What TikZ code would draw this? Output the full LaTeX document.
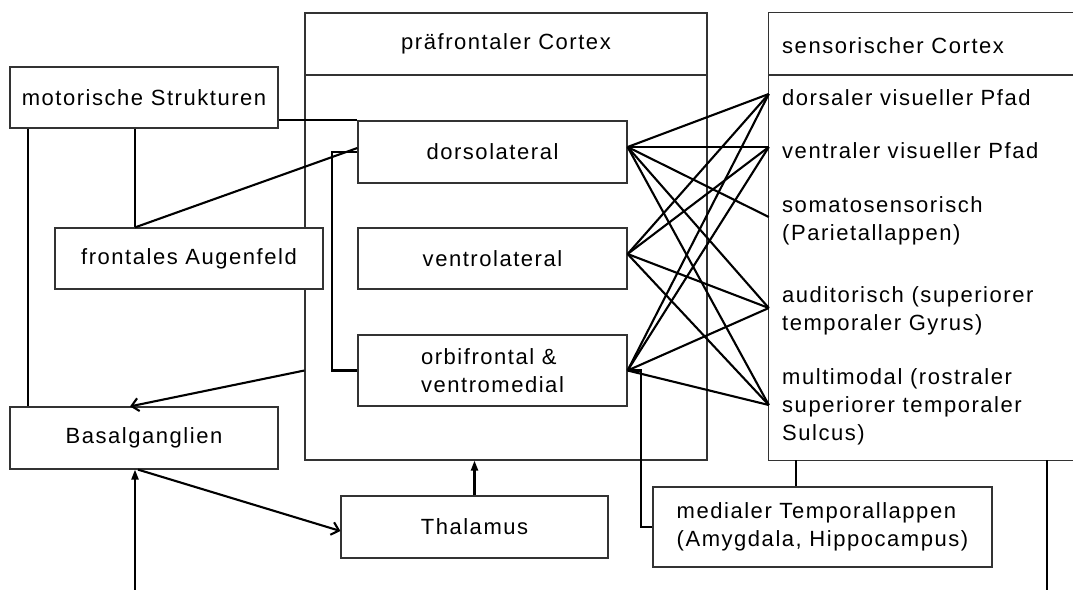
\documentclass[tikz,border=0pt]{standalone}
\usepackage{fontspec}
\setmainfont{Liberation Sans}[LetterSpace=7.0]
\usetikzlibrary{arrows.meta}

\newcommand{\diagfont}{\fontsize{22}{28}\selectfont}

\begin{document}
\begin{tikzpicture}[x=1pt,y=-1pt,
  frame/.style={draw=black!80, line width=1.2pt},
  box/.style={frame, rectangle, inner sep=0pt, font=\diagfont, fill=white},
  label/.style={inner sep=0pt, font=\diagfont, align=left},
  conn/.style={draw=black, line width=2.1pt},
  openarr/.style={conn, -{Straight Barb[length=7pt,width=13pt]}},
  fillarr/.style={conn, -{Triangle[length=10pt,width=7pt]}}]

\useasboundingbox[fill=white] (0,0) rectangle (1073,589);

% containers: prefrontal and sensory cortex
\node[frame, minimum width=402, minimum height=447, inner sep=0pt] (pfc) at (506,236.5) {};
\draw[frame] (pfc.west |- 0,75) -- (pfc.east |- 0,75);
\node[label, align=center] (pfctitle) at (506,44) {präfrontaler Cortex};

\node[minimum width=304, minimum height=447, inner sep=0pt] (stc) at (921,236.5) {};
\draw[frame] (stc.north east) -- (stc.north west) -- (stc.south west) -- (stc.south east);
\draw[frame] (stc.west |- 0,75) -- (stc.east |- 0,75);
\node[label, anchor=base west] (stctitle) at (782,53) {sensorischer Cortex};

% sensory areas (base anchor sits on the last line)
\node[label, anchor=base west] (sdors) at (782,105) {dorsaler visueller Pfad};
\node[label, anchor=base west] (svent) at (782,158) {ventraler visueller Pfad};
\node[label, anchor=base west] (ssoma) at (782,240) {somatosensorisch\\(Parietallappen)};
\node[label, anchor=base west] (saud) at (782,330) {auditorisch (superiorer\\temporaler Gyrus)};
\node[label, anchor=base west] (smulti) at (782,440) {multimodal (rostraler\\superiorer temporaler\\Sulcus)};

% boxes
\node[box, minimum width=268, minimum height=61] (motor) at (144,97.5) {motorische Strukturen};
\node[box, minimum width=268, minimum height=61] (augen) at (189,258.5) {frontales Augenfeld};
\node[box, minimum width=268, minimum height=62] (basal) at (144,438) {Basalganglien};
\node[box, minimum width=267, minimum height=62] (thal) at (474.5,527) {Thalamus};
\node[box, minimum width=269, minimum height=62] (dl) at (492.5,152) {dorsolateral};
\node[box, minimum width=269, minimum height=61] (vl) at (492.5,258.5) {ventrolateral};
\node[box, minimum width=269, minimum height=71, align=left] (of) at (492.5,370.5) {orbifrontal \&\\ventromedial};
\node[box, minimum width=339, minimum height=80, align=left] (med) at (822.5,527) {medialer Temporallappen\\(Amygdala, Hippocampus)};

% ports on the prefrontal and sensory sides
\coordinate (qDL) at ([yshift=5pt]dl.east);
\coordinate (qVL) at ([yshift=4.5pt]vl.east);
\coordinate (qOF) at (of.east);
\coordinate (pD) at (stc.west |- 0,94);
\coordinate (pV) at (stc.west |- 0,147);
\coordinate (pS) at (stc.west |- 0,217);
\coordinate (pA) at (stc.west |- 0,308);
\coordinate (pM) at (stc.west |- 0,405);

% loop leaving the picture at the bottom
\coordinate (loopL) at (135,591);
\coordinate (loopR) at (1047,591);

% motor links
\draw[conn] (dl.north west) -- (dl.north west -| motor.east);
\draw[conn] ([xshift=-116pt]motor.south) -- ([xshift=-116pt]basal.north);
\draw[conn] ([xshift=-9pt]motor.south) -- ([xshift=-54pt]augen.north);
\draw[conn] ([xshift=-54pt]augen.north) -- ([yshift=4pt]dl.west);

% bracket joining dorsolateral and orbifrontal
\draw[conn] (dl.west) -- ++(-25,0) |- (of.west);

% basal ganglia loop
\draw[openarr] (pfc.west |- of.west) -- ([xshift=-14pt]basal.north);
\draw[openarr] ([xshift=-6pt]basal.south) -- ([yshift=-4pt]thal.west);
\draw[fillarr] (loopL) -- ([xshift=-9pt]basal.south);
\draw[fillarr] (thal.north) -- (pfc.south -| thal.north);

% medial temporal lobe
\draw[conn] (qOF) -- ++(13,0) |- (med.west);
\draw[conn] ([xshift=-26.5pt]med.north) -- ([xshift=-26.5pt]med.north |- stc.south);
\draw[conn] (loopR |- stc.south) -- (loopR);

% prefrontal -- sensory projections
\draw[conn] (qDL) -- (pD);
\draw[conn] (qDL) -- (pV);
\draw[conn] (qDL) -- (pS);
\draw[conn] (qDL) -- (pA);
\draw[conn] (qDL) -- (pM);
\draw[conn] (qVL) -- (pD);
\draw[conn] (qVL) -- (pV);
\draw[conn] (qVL) -- (pA);
\draw[conn] (qVL) -- (pM);
\draw[conn] (qOF) -- (pD);
\draw[conn] (qOF) -- (pV);
\draw[conn] (qOF) -- (pA);
\draw[conn] (qOF) -- (pM);

\end{tikzpicture}
\end{document}
